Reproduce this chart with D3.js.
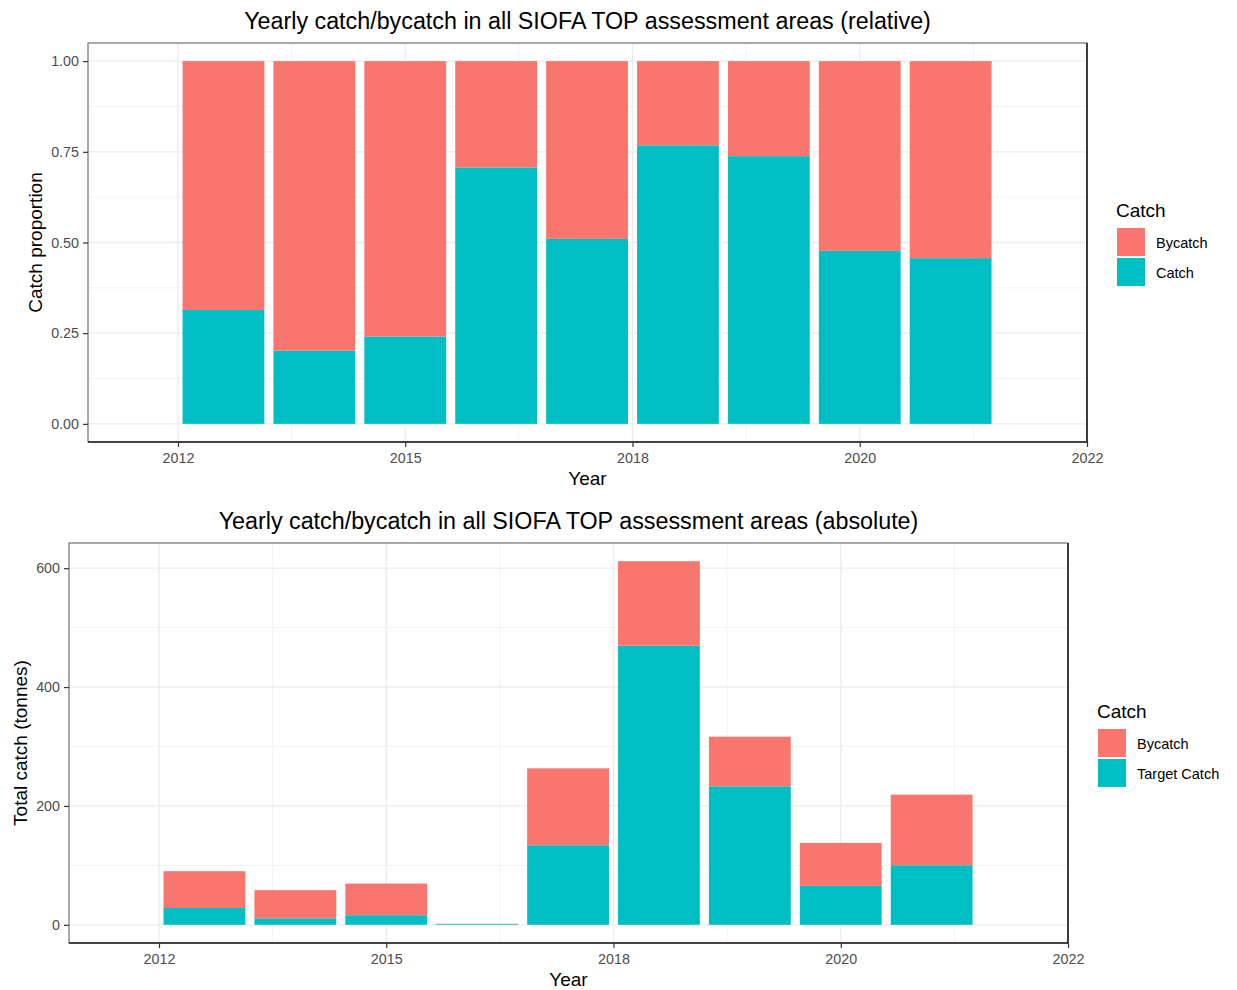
<!DOCTYPE html>
<html>
<head>
<meta charset="utf-8">
<script src="https://cdn.jsdelivr.net/npm/d3@7"></script>
<style>
  html, body { margin: 0; padding: 0; background: #fff; }
  svg { display: block; font-family: "Liberation Sans", Arial, sans-serif; }
</style>
</head>
<body>
<div id="chart"></div>
<script>
(() => {
  // ------- data -------
  const years = [2013, 2014, 2015, 2016, 2017, 2018, 2019, 2020, 2021];

  // relative (proportion of yearly total)
  const relCatch   = [0.314, 0.202, 0.241, 0.707, 0.510, 0.768, 0.738, 0.477, 0.457];
  const relBycatch = [0.686, 0.798, 0.759, 0.293, 0.490, 0.232, 0.262, 0.523, 0.543];

  // absolute (tonnes)
  const absCatch   = [28.3, 11.0, 16.2, 1.2, 133.9, 469.5, 233.0, 65.5, 100.3];
  const absBycatch = [61.9, 47.3, 53.2, 0.5, 129.4, 142.3, 83.5, 72.3, 118.7];

  const xTicks = [2012.5, 2015, 2017.5, 2020, 2022.5];
  const xTickLabels = ["2012", "2015", "2018", "2020", "2022"];
  const xMinor = [2013.75, 2016.25, 2018.75, 2021.25];

  const relTicks = [0, 0.25, 0.5, 0.75, 1];
  const relMinor = [0.125, 0.375, 0.625, 0.875];
  const absTicks = [0, 200, 400, 600];
  const absMinor = [100, 300, 500];

  const COLORS = { Bycatch: "#F8766D", Catch: "#00BFC4" };

  const W = 1237, H = 990;
  const svg = d3.select("#chart").append("svg")
    .attr("width", W).attr("height", H)
    .attr("viewBox", `0 0 ${W} ${H}`);
  svg.append("rect").attr("width", W).attr("height", H).attr("fill", "#fff");

  function panel(cfg) {
    const { box, title, yTitle, yTitleX, catchVals, bycatchVals, yTicks, yMinor, yFmt, legendLabels, legendX, legendY } = cfg;

    const x = d3.scaleLinear().domain([2011.51, 2022.5]).range([box.left, box.right]);
    const maxTotal = d3.max(years, (d, i) => catchVals[i] + bycatchVals[i]);
    const y = d3.scaleLinear()
      .domain([-0.05 * maxTotal, 1.05 * maxTotal])
      .range([box.bottom, box.top]);

    const g = svg.append("g");

    // grid
    g.append("g").selectAll("line").data(xMinor).join("line")
      .attr("x1", d => x(d)).attr("x2", d => x(d))
      .attr("y1", box.top).attr("y2", box.bottom)
      .attr("stroke", "#f3f3f3").attr("stroke-width", 1);
    g.append("g").selectAll("line").data(yMinor).join("line")
      .attr("x1", box.left).attr("x2", box.right)
      .attr("y1", d => y(d)).attr("y2", d => y(d))
      .attr("stroke", "#f3f3f3").attr("stroke-width", 1);
    g.append("g").selectAll("line").data(xTicks).join("line")
      .attr("x1", d => x(d)).attr("x2", d => x(d))
      .attr("y1", box.top).attr("y2", box.bottom)
      .attr("stroke", "#ebebeb").attr("stroke-width", 1.3);
    g.append("g").selectAll("line").data(yTicks).join("line")
      .attr("x1", box.left).attr("x2", box.right)
      .attr("y1", d => y(d)).attr("y2", d => y(d))
      .attr("stroke", "#ebebeb").attr("stroke-width", 1.3);

    // stacked bars (Catch at bottom, Bycatch on top)
    const rows = years.map((yr, i) => ({ year: yr, Catch: catchVals[i], Bycatch: bycatchVals[i] }));
    const series = d3.stack().keys(["Catch", "Bycatch"])(rows);
    const bw = 0.9;
    g.append("g").selectAll("g").data(series).join("g")
      .attr("fill", s => COLORS[s.key])
      .selectAll("rect").data(s => s).join("rect")
      .attr("x", d => x(d.data.year - bw / 2))
      .attr("width", d => x(d.data.year + bw / 2) - x(d.data.year - bw / 2))
      .attr("y", d => y(d[1]))
      .attr("height", d => y(d[0]) - y(d[1]));

    // panel border
    g.append("rect")
      .attr("x", box.left).attr("y", box.top)
      .attr("width", box.right - box.left).attr("height", box.bottom - box.top)
      .attr("fill", "none").attr("stroke", "#555").attr("stroke-width", 1);
    g.append("path")
      .attr("d", `M${box.left},${box.bottom}H${box.right}V${box.top}`)
      .attr("fill", "none").attr("stroke", "#222").attr("stroke-width", 1.6);

    // axes
    const xAxis = d3.axisBottom(x).tickValues(xTicks)
      .tickFormat((d, i) => xTickLabels[i]).tickSize(5).tickSizeOuter(0).tickPadding(6);
    g.append("g").attr("transform", `translate(0,${box.bottom})`).call(xAxis)
      .call(a => a.select(".domain").remove())
      .call(a => a.selectAll("line").attr("stroke", "#333").attr("stroke-width", 1.2))
      .call(a => a.selectAll("text").attr("fill", "#4d4d4d")
        .style("font-size", "14.3px").style("font-family", "Liberation Sans, Arial, sans-serif"));

    const yAxis = d3.axisLeft(y).tickValues(yTicks).tickFormat(d3.format(yFmt))
      .tickSize(5).tickSizeOuter(0).tickPadding(4);
    g.append("g").attr("transform", `translate(${box.left},0)`).call(yAxis)
      .call(a => a.select(".domain").remove())
      .call(a => a.selectAll("line").attr("stroke", "#333").attr("stroke-width", 1.2))
      .call(a => a.selectAll("text").attr("fill", "#4d4d4d")
        .style("font-size", "14.3px").style("font-family", "Liberation Sans, Arial, sans-serif"));

    const cx = (box.left + box.right) / 2;
    const cy = (box.top + box.bottom) / 2;

    // title
    g.append("text")
      .attr("x", cx).attr("y", box.top - 14)
      .attr("text-anchor", "middle").attr("fill", "#000")
      .style("font-size", "23.3px")
      .text(title);

    // axis titles
    g.append("text")
      .attr("x", cx).attr("y", box.bottom + 43)
      .attr("text-anchor", "middle").attr("fill", "#000")
      .style("font-size", "19px")
      .text("Year");

    g.append("text")
      .attr("transform", `translate(${yTitleX},${cy}) rotate(-90)`)
      .attr("text-anchor", "middle").attr("fill", "#000")
      .style("font-size", "19px")
      .text(yTitle);

    // legend
    const lg = g.append("g").attr("transform", `translate(${legendX},${legendY})`);
    lg.append("text").attr("x", -1).attr("y", 0)
      .attr("fill", "#000").style("font-size", "19px").text("Catch");
    const keys = ["Bycatch", "Catch"];
    keys.forEach((k, i) => {
      const row = lg.append("g").attr("transform", `translate(0,${11 + i * 30})`);
      row.append("rect").attr("x", 0).attr("y", 0).attr("width", 28).attr("height", 28)
        .attr("fill", COLORS[k]);
      row.append("text").attr("x", 39).attr("y", 15).attr("dy", "0.35em")
        .attr("fill", "#000").style("font-size", "14.5px").text(legendLabels[i]);
    });
  }

  panel({
    box: { left: 88, right: 1087, top: 43, bottom: 442 },
    title: "Yearly catch/bycatch in all SIOFA TOP assessment areas (relative)",
    yTitle: "Catch proportion",
    yTitleX: 42,
    catchVals: relCatch, bycatchVals: relBycatch,
    yTicks: relTicks, yMinor: relMinor, yFmt: ".2f",
    legendLabels: ["Bycatch", "Catch"],
    legendX: 1117, legendY: 217
  });

  panel({
    box: { left: 69, right: 1068, top: 543, bottom: 943 },
    title: "Yearly catch/bycatch in all SIOFA TOP assessment areas (absolute)",
    yTitle: "Total catch (tonnes)",
    yTitleX: 27,
    catchVals: absCatch, bycatchVals: absBycatch,
    yTicks: absTicks, yMinor: absMinor, yFmt: "d",
    legendLabels: ["Bycatch", "Target Catch"],
    legendX: 1098, legendY: 718
  });
})();
</script>
</body>
</html>
